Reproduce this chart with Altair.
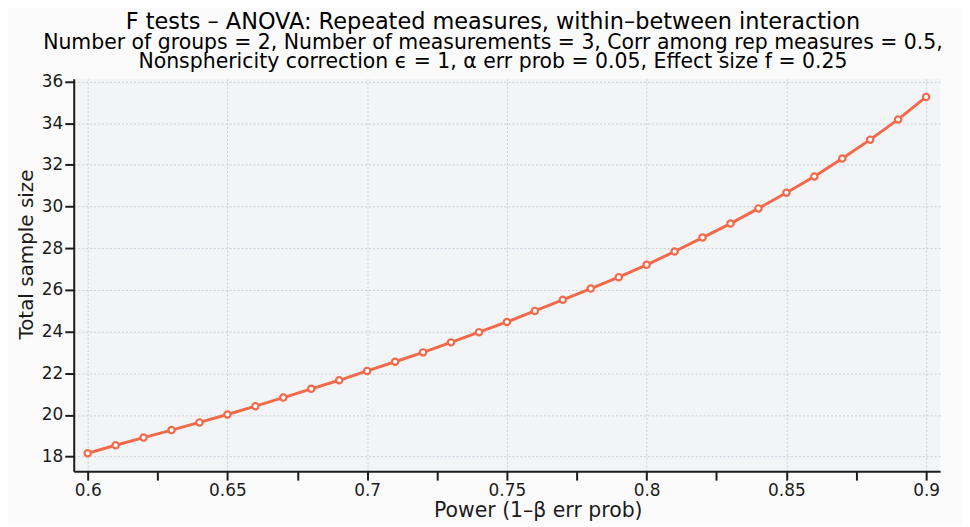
import altair as alt
import pandas as pd

power = [0.60, 0.61, 0.62, 0.63, 0.64, 0.65, 0.66, 0.67, 0.68, 0.69, 0.70,
         0.71, 0.72, 0.73, 0.74, 0.75, 0.76, 0.77, 0.78, 0.79, 0.80,
         0.81, 0.82, 0.83, 0.84, 0.85, 0.86, 0.87, 0.88, 0.89, 0.90]
total_n = [18.16, 18.54, 18.91, 19.27, 19.64, 20.02, 20.42, 20.83, 21.25, 21.66, 22.11,
           22.55, 23.00, 23.48, 23.97, 24.46, 24.99, 25.52, 26.06, 26.61, 27.20,
           27.84, 28.51, 29.18, 29.91, 30.66, 31.44, 32.30, 33.21, 34.18, 35.26]

x_ticks = [0.6, 0.625, 0.65, 0.675, 0.7, 0.725, 0.75, 0.775, 0.8, 0.825, 0.85, 0.875, 0.9]
y_ticks = list(range(18, 37))

title_text = "F tests – ANOVA: Repeated measures, within–between interaction"
subtitle_lines = [
    "Number of groups = 2, Number of measurements = 3, Corr among rep measures = 0.5,",
    "Nonsphericity correction ϵ = 1, α err prob = 0.05, Effect size f = 0.25",
]
x_title = "Power (1–β err prob)"
y_title = "Total sample size"

df = pd.DataFrame({"power": power, "n": total_n})

LINE = "#f26a4b"
FONT = "DejaVu Sans"
AX = "#1c1c1c"
GRID = "#c5d0d9"

x_major = "round(datum.value * 1000) % 50 === 0"
y_major = "round(datum.value) % 2 === 0"

x_axis = alt.Axis(
    values=x_ticks, format="~g",
    labelExpr=f"{x_major} ? datum.label : ''",
    title=x_title, titleX=466, titlePadding=3,
    tickSize=9, tickWidth=2, tickColor=AX,
    domainColor=AX, domainWidth=2,
    labelFontSize=17, labelFont=FONT, labelColor=AX, labelPadding=2,
    titleFontSize=20.5, titleFont=FONT, titleFontWeight="normal", titleColor=AX,
    grid=True, gridColor=GRID, gridDash=[2, 2], gridWidth=1,
    gridOpacity={"condition": {"test": x_major, "value": 1}, "value": 0},
    labelFlush=False, labelOverlap=False,
)
y_axis = alt.Axis(
    values=y_ticks,
    labelExpr=f"{y_major} ? datum.label : ''",
    title=y_title, titlePadding=5, titleY=176,
    tickSize={"condition": {"test": y_major, "value": 9}, "value": 6},
    tickWidth=2, tickColor=AX,
    domainColor=AX, domainWidth=2,
    labelFontSize=17, labelFont=FONT, labelColor=AX, labelPadding=2,
    titleFontSize=20, titleFont=FONT, titleFontWeight="normal", titleColor=AX,
    grid=True, gridColor=GRID, gridDash=[2, 2], gridWidth=1,
    gridOpacity={"condition": {"test": y_major, "value": 1}, "value": 0},
    labelOverlap=False,
)

x_enc = alt.X("power:Q", scale=alt.Scale(domain=[0.595, 0.905], nice=False, zero=False), axis=x_axis)
y_enc = alt.Y("n:Q", scale=alt.Scale(domain=[17.3, 36.13], nice=False, zero=False), axis=y_axis)

base = alt.Chart(df)
line = base.mark_line(color=LINE, strokeWidth=3).encode(x=x_enc, y=y_enc)
pts = base.mark_circle(fill="white", stroke=LINE, strokeWidth=2.2, size=40, opacity=1).encode(
    x="power:Q", y="n:Q")

chart = (
    alt.layer(line, pts)
    .properties(
        width=870, height=394,
        padding={"left": 66, "top": 70, "right": 22, "bottom": 54},
        autosize=alt.AutoSizeParams(type="none"),
        title=alt.TitleParams(
            text=title_text, subtitle=subtitle_lines,
            font=FONT, fontSize=22.5, fontWeight="normal", color="black",
            subtitleFont=FONT, subtitleFontSize=20.5, subtitleColor="black",
            subtitleLineHeight=19, subtitlePadding=0,
            anchor="middle", dx=-14, offset=0,
        ),
    )
    .configure(background="#fbfbfb")
    .configure_view(fill="#f3f4f6", stroke=None)
)

chart.save("out.html", embed_options={"renderer": "svg", "actions": False})
